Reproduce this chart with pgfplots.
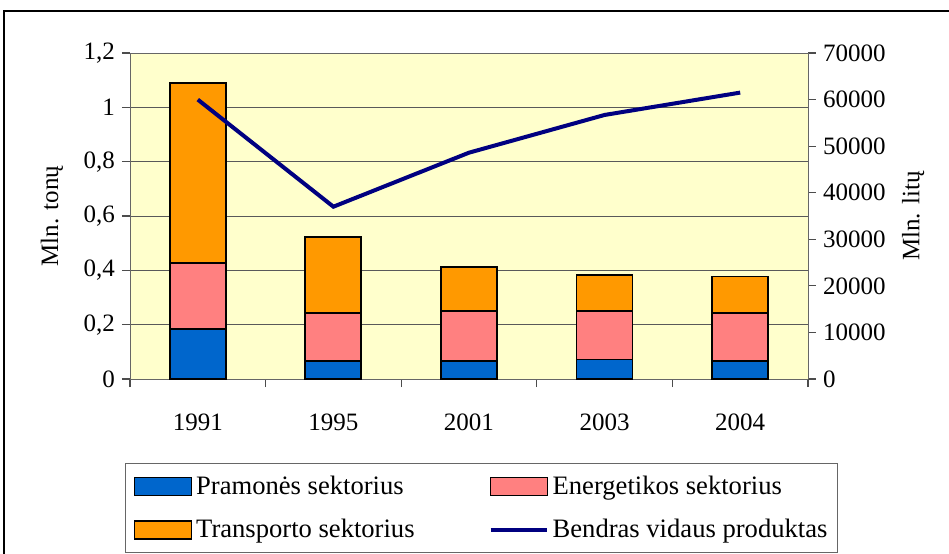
\documentclass[border=0pt]{standalone}
\usepackage{fontspec}
\setmainfont{Liberation Serif}
\usepackage{pgfplots}
\usepackage{pgfplotstable}
\pgfplotsset{compat=1.18}
\definecolor{pblue}{RGB}{0,102,204}
\definecolor{ppink}{RGB}{255,128,128}
\definecolor{porange}{RGB}{255,153,0}
\definecolor{pnavy}{RGB}{0,0,128}
\definecolor{pbg}{RGB}{255,255,204}
\pgfplotstableread{
x pram ener trans
0 0.185 0.243 0.662
1 0.067 0.177 0.280
2 0.066 0.184 0.162
3 0.072 0.178 0.133
4 0.066 0.178 0.133
}\emis
\pgfplotstableread{
x gdp
0 60000
1 37000
2 48600
3 56700
4 61500
}\gdp
\newcommand{\tfont}{\fontsize{12.5}{15}\selectfont}
\newcommand{\lfont}{\fontsize{13.3}{16}\selectfont}
\begin{document}
\begin{tikzpicture}
\useasboundingbox (0,0) rectangle (474.5pt,-276.5pt);
\draw[line width=1.1pt] (2pt,-280pt) -- (2pt,-5.5pt) -- (480pt,-5.5pt);
\begin{axis}[
  at={(65pt,-189.5pt)}, anchor=south west,
  scale only axis, width=339pt, height=163pt,
  xmin=-0.5, xmax=4.5, ymin=0, ymax=1.2,
  ybar stacked, bar width=28pt,
  axis background/.style={fill=pbg},
  axis line style={black!60},
  xtick={-0.5,0.5,1.5,2.5,3.5,4.5},
  x tick label as interval,
  xticklabels={1991,1995,2001,2003,2004},
  xtick pos=bottom, ytick pos=left,
  ytick={0,0.2,0.4,0.6,0.8,1,1.2},
  tick align=outside, major tick length=4pt,
  tick style={black!70, line width=0.6pt},
  ymajorgrids, grid style={black!65, line width=0.5pt},
  /pgf/number format/assume math mode=true,
  yticklabel style={font=\tfont, /pgf/number format/.cd, use comma, fixed, precision=1},
  xticklabel style={font=\tfont, yshift=-10pt},
  ylabel={Mln. tonų},
  ylabel style={font=\tfont, at={(axis description cs:-0.115,0.5)}, anchor=center, rotate=0},
  legend columns=2,
  legend style={at={(axis description cs:-0.0074,-0.2577)}, anchor=north west,
    draw=black!60, line width=0.6pt, font=\lfont,
    inner xsep=4pt, inner ysep=5pt, row sep=9pt,
    nodes={inner sep=1pt},
    /tikz/every odd column/.append style={column sep=1pt},
    /tikz/every even column/.append style={column sep=36pt}},
  legend cell align=left,
]
\addplot[fill=pblue, draw=black, line width=0.9pt,
  legend image code/.code={\draw[fill=pblue, draw=black, line width=0.8pt] (0pt,-4.5pt) rectangle (28.5pt,4.5pt);}]
  table[x=x, y=pram]{\emis};
\addplot[fill=ppink, draw=black, line width=0.9pt,
  legend image code/.code={\draw[fill=ppink, draw=black, line width=0.8pt] (0pt,-4.5pt) rectangle (28.5pt,4.5pt);}]
  table[x=x, y=ener]{\emis};
\addplot[fill=porange, draw=black, line width=0.9pt,
  legend image code/.code={\draw[fill=porange, draw=black, line width=0.8pt] (0pt,-4.5pt) rectangle (28.5pt,4.5pt);}]
  table[x=x, y=trans]{\emis};
\addlegendimage{legend image code/.code={\draw[pnavy, line width=2pt] (0pt,0pt) -- (28pt,0pt);}}
\legend{Pramonės sektorius, Energetikos sektorius, Transporto sektorius, Bendras vidaus produktas}
\end{axis}
\begin{axis}[
  at={(65pt,-189.5pt)}, anchor=south west,
  scale only axis, width=339pt, height=163pt,
  xmin=-0.5, xmax=4.5, ymin=0, ymax=70000,
  axis x line=none, axis y line*=right,
  axis line style={black!60},
  ytick={0,10000,20000,30000,40000,50000,60000,70000},
  scaled y ticks=false,
  tick align=outside, major tick length=4pt,
  tick style={black!70, line width=0.6pt},
  /pgf/number format/assume math mode=true,
  yticklabel style={font=\tfont, /pgf/number format/.cd, fixed, 1000 sep={}},
  ylabel={Mln. litų},
  ylabel style={font=\tfont, at={(axis description cs:1.155,0.5)}, anchor=center, rotate=0},
]
\addplot[pnavy, line width=2pt, mark=none] table[x=x, y=gdp]{\gdp};
\end{axis}
\end{tikzpicture}
\end{document}
